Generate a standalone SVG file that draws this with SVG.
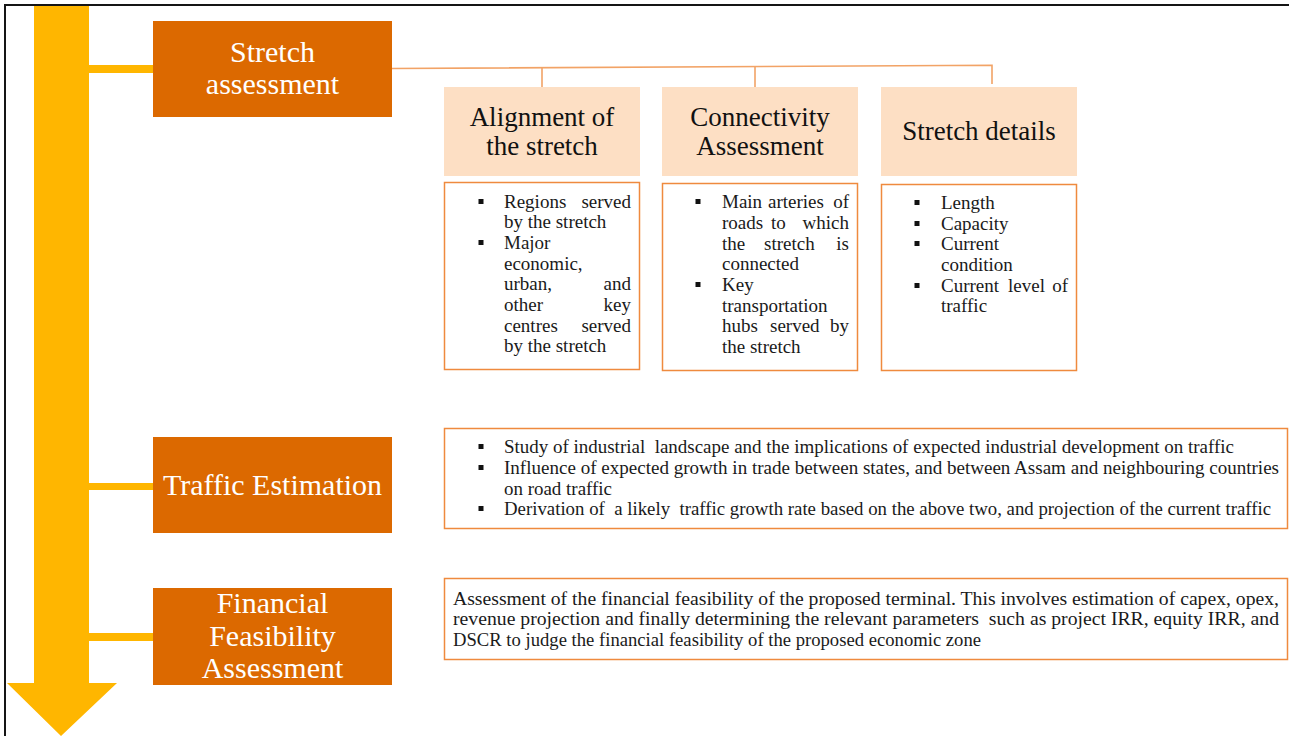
<svg xmlns="http://www.w3.org/2000/svg" width="1289" height="736" viewBox="0 0 1289 736">
<style>
.stage{fill:#DC6900}
.stage-t{font-family:'Liberation Serif','DejaVu Serif',serif;font-size:30px;fill:#FFFFFF;text-anchor:middle}
.head{fill:#FDDFC4}
.head-t{font-family:'Liberation Serif','DejaVu Serif',serif;font-size:27px;fill:#111111;text-anchor:middle}
.box{fill:#FFFFFF;stroke:#EF8A3E;stroke-width:1.5}
.body{font-family:'Liberation Serif','DejaVu Serif',serif;font-size:19px;fill:#1A1A1A}
.wide{font-family:'Liberation Serif','DejaVu Serif',serif;font-size:18px;fill:#1A1A1A}
.end{text-anchor:end}
.bul{fill:#111111}
.bar{fill:#FFB600}
.thin{fill:none;stroke:#F2A366;stroke-width:1.6}
</style>

<rect x="5" y="5" width="1300" height="740" fill="#FFFFFF" stroke="#151515" stroke-width="2"/>

<g id="timeline">
<path class="bar" d="M34,6 H89 V683 H117 L61,736 L7,683 H34 Z"/>
</g>

<g id="connectors">
<rect class="bar" x="89" y="65" width="64" height="8"/>
<rect class="bar" x="89" y="483" width="68" height="7"/>
<rect class="bar" x="89" y="633" width="64" height="8"/>
<path class="thin" d="M392,68.5 L992,65.3 V84"/>
<path class="thin" d="M542,67.7 V87"/>
<path class="thin" d="M755,66.5 V87"/>
</g>

<g id="stretch-assessment">
<rect class="stage" x="153" y="21" width="239" height="96"/>
<text class="stage-t" x="272.5" y="62">Stretch</text>
<text class="stage-t" x="272.5" y="94">assessment</text>
</g>

<g id="traffic-estimation">
<rect class="stage" x="153" y="437" width="239" height="96"/>
<text class="stage-t" x="272.5" y="495">Traffic Estimation</text>
</g>

<g id="financial-feasibility">
<rect class="stage" x="153" y="588" width="239" height="97"/>
<text class="stage-t" x="272.5" y="613">Financial</text>
<text class="stage-t" x="272.5" y="646">Feasibility</text>
<text class="stage-t" x="272.5" y="678">Assessment</text>
</g>

<g id="alignment">
<rect class="head" x="444" y="87" width="196" height="89"/>
<text class="head-t" x="542" y="126">Alignment of</text>
<text class="head-t" x="542" y="155">the stretch</text>
<rect class="box" x="444.5" y="182.5" width="195" height="187"/>
<rect class="bul" x="478.5" y="199" width="5" height="5"/>
<rect class="bul" x="478.5" y="240" width="5" height="5"/>
<text class="body" x="504" y="208">Regions</text>
<text class="body end" x="631" y="208">served</text>
<text class="body" x="504" y="228">by the stretch</text>
<text class="body" x="504" y="249">Major</text>
<text class="body" x="504" y="270">economic,</text>
<text class="body" x="504" y="290">urban,</text>
<text class="body end" x="631" y="290">and</text>
<text class="body" x="504" y="311">other</text>
<text class="body end" x="631" y="311">key</text>
<text class="body" x="504" y="332">centres</text>
<text class="body end" x="631" y="332">served</text>
<text class="body" x="504" y="352">by the stretch</text>
</g>

<g id="connectivity">
<rect class="head" x="662" y="87" width="196" height="89"/>
<text class="head-t" x="760" y="126">Connectivity</text>
<text class="head-t" x="760" y="155">Assessment</text>
<rect class="box" x="662.5" y="183.5" width="195" height="187"/>
<rect class="bul" x="695.5" y="199" width="5" height="5"/>
<rect class="bul" x="695.5" y="282" width="5" height="5"/>
<text class="body" x="722" y="208">Main</text>
<text class="body" x="768" y="208">arteries</text>
<text class="body end" x="849" y="208">of</text>
<text class="body" x="722" y="229">roads</text>
<text class="body" x="771" y="229">to</text>
<text class="body end" x="849" y="229">which</text>
<text class="body" x="722" y="250">the</text>
<text class="body" x="764" y="250">stretch</text>
<text class="body end" x="849" y="250">is</text>
<text class="body" x="722" y="270">connected</text>
<text class="body" x="722" y="291">Key</text>
<text class="body" x="722" y="312">transportation</text>
<text class="body" x="722" y="332">hubs</text>
<text class="body" x="770" y="332">served</text>
<text class="body end" x="849" y="332">by</text>
<text class="body" x="722" y="353">the stretch</text>
</g>

<g id="stretch-details">
<rect class="head" x="881" y="87" width="196" height="89"/>
<text class="head-t" x="979" y="140">Stretch details</text>
<rect class="box" x="881.5" y="184.5" width="195" height="186"/>
<rect class="bul" x="914.5" y="200" width="5" height="5"/>
<rect class="bul" x="914.5" y="221" width="5" height="5"/>
<rect class="bul" x="914.5" y="241" width="5" height="5"/>
<rect class="bul" x="914.5" y="283" width="5" height="5"/>
<text class="body" x="941" y="209">Length</text>
<text class="body" x="941" y="230">Capacity</text>
<text class="body" x="941" y="250">Current</text>
<text class="body" x="941" y="271">condition</text>
<text class="body" x="941" y="292">Current</text>
<text class="body" x="1008" y="292">level</text>
<text class="body end" x="1068" y="292">of</text>
<text class="body" x="941" y="312">traffic</text>
</g>

<g id="traffic-details">
<rect class="box" x="444.5" y="428.5" width="843" height="100"/>
<rect class="bul" x="478.5" y="444" width="5" height="5"/>
<rect class="bul" x="478.5" y="465" width="5" height="5"/>
<rect class="bul" x="478.5" y="506" width="5" height="5"/>
<text class="wide" x="504" y="453" textLength="730" lengthAdjust="spacingAndGlyphs" xml:space="preserve">Study of industrial  landscape and the implications of expected industrial development on traffic</text>
<text class="wide" x="504" y="474" textLength="775" lengthAdjust="spacingAndGlyphs">Influence of expected growth in trade between states, and between Assam and neighbouring countries</text>
<text class="wide" x="504" y="495" textLength="108" lengthAdjust="spacingAndGlyphs">on road traffic</text>
<text class="wide" x="504" y="515" textLength="767" lengthAdjust="spacingAndGlyphs" xml:space="preserve">Derivation of  a likely  traffic growth rate based on the above two, and projection of the current traffic</text>
</g>

<g id="financial-details">
<rect class="box" x="444.5" y="578.5" width="843" height="81"/>
<text class="wide" x="453" y="605" textLength="826" lengthAdjust="spacingAndGlyphs">Assessment of the financial feasibility of the proposed terminal. This involves estimation of capex, opex,</text>
<text class="wide" x="453" y="625" textLength="826" lengthAdjust="spacingAndGlyphs" xml:space="preserve">revenue projection and finally determining the relevant parameters  such as project IRR, equity IRR, and</text>
<text class="wide" x="453" y="646" textLength="528" lengthAdjust="spacingAndGlyphs">DSCR to judge the financial feasibility of the proposed economic zone</text>
</g>
</svg>
